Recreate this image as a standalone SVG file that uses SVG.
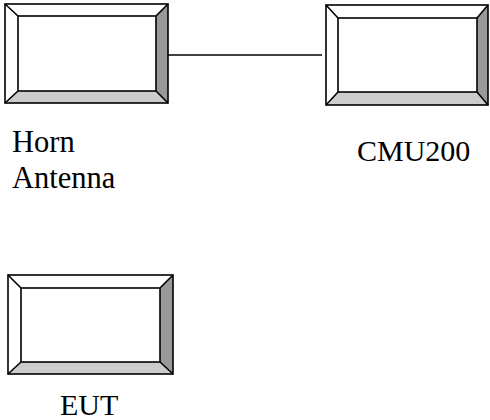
<svg xmlns="http://www.w3.org/2000/svg" width="490" height="420" viewBox="0 0 490 420">
<style>
.lt{fill:#ffffff}
.rt{fill:#999999}
.bt{fill:#cccccc}
.edge{fill:none;stroke:#000;stroke-width:1.6;stroke-linejoin:miter}
.inner{fill:#ffffff;stroke:#000;stroke-width:1.6}
.conn{stroke:#000;stroke-width:1.5;fill:none}
.lbl{font-family:"Liberation Serif","Times New Roman",serif;font-size:30px;fill:#000}
</style>
<rect width="490" height="420" fill="#fff"/>
<g id="connectors">
<line class="conn" x1="168" y1="55" x2="322" y2="55"/>
</g>
<g id="horn">
<polygon class="lt" points="5,4 168,4 156,16 18,16 18,91 5,103"/>
<polygon class="rt" points="168,4 168,103 156,91 156,16"/>
<polygon class="bt" points="5,103 168,103 156,91 18,91"/>
<rect class="inner" x="18" y="16" width="138" height="75"/>
<path class="edge" d="M5,4 L18,16 M168,4 L156,16 M5,103 L18,91 M168,103 L156,91"/>
<rect class="edge" x="5" y="4" width="163" height="99"/>
<text class="lbl" x="12" y="152" style="font-size:30.5px">Horn</text>
<text class="lbl" x="12" y="188" style="font-size:30.5px">Antenna</text>
</g>
<g id="cmu">
<polygon class="lt" points="326,5 488,5 477,18 338,18 338,92 326,105"/>
<polygon class="rt" points="488,5 488,105 477,92 477,18"/>
<polygon class="bt" points="326,105 488,105 477,92 338,92"/>
<rect class="inner" x="338" y="18" width="139" height="74"/>
<path class="edge" d="M326,5 L338,18 M488,5 L477,18 M326,105 L338,92 M488,105 L477,92"/>
<rect class="edge" x="326" y="5" width="162" height="100"/>
<text class="lbl" x="357" y="161">CMU200</text>
</g>
<g id="eut">
<polygon class="lt" points="8,275 173,275 160,288 21,288 21,362 8,374"/>
<polygon class="rt" points="173,275 173,374 160,362 160,288"/>
<polygon class="bt" points="8,374 173,374 160,362 21,362"/>
<rect class="inner" x="21" y="288" width="139" height="74"/>
<path class="edge" d="M8,275 L21,288 M173,275 L160,288 M8,374 L21,362 M173,374 L160,362"/>
<rect class="edge" x="8" y="275" width="165" height="99"/>
<text class="lbl" x="60" y="415">EUT</text>
</g>
</svg>
